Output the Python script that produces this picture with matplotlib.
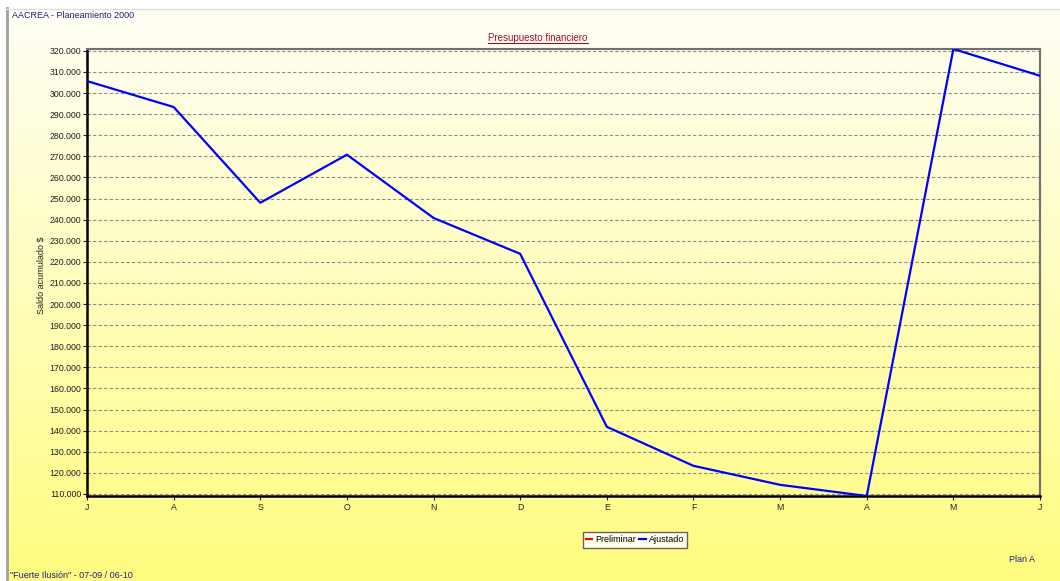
import numpy as np
import matplotlib.pyplot as plt
from matplotlib.lines import Line2D
from matplotlib.ticker import FuncFormatter

meses = ['J', 'A', 'S', 'O', 'N', 'D', 'E', 'F', 'M', 'A', 'M', 'J']
ajustado = [305700, 293400, 248000, 270800, 240800, 223800, 141800, 123300, 114300, 109000, 320900, 308200]
preliminar = []  # sin datos visibles
yticks = list(range(110000, 320001, 10000))

plt.rcParams['font.family'] = ['Liberation Sans', 'DejaVu Sans']

fig = plt.figure(figsize=(10.6, 5.81), dpi=100)

# fondo degradado (blanco arriba, amarillo abajo)
bg = fig.add_axes([0, 0, 1, 1], zorder=-10)
grad = np.linspace(0, 1, 256).reshape(-1, 1)
top = np.array([1.0, 1.0, 0.97])
bot = np.array([1.0, 0.99, 0.50])
img = top + (bot - top) * grad[..., None]
bg.imshow(img, aspect='auto', extent=[0, 1, 0, 1], origin='upper')
bg.axvspan(0, 6/1060, color='white')
bg.axhspan(1 - 8/581, 1, color='white')
bg.set_xlim(0, 1); bg.set_ylim(0, 1)
bg.axis('off')
fig.add_artist(Line2D([6.5/1060, 6.5/1060], [0, 1 - 8/581], color='#a0a0a0', lw=2))
fig.add_artist(Line2D([6/1060, 1], [1 - 8.5/581, 1 - 8.5/581], color='#e0e0e0', lw=1))

ax = fig.add_axes([87/1060, 1 - 496/581, (1040 - 87)/1060, (496 - 49)/581])
ax.patch.set_alpha(0)

x = np.arange(len(meses))
ax.plot(x, ajustado, color='#0000ff', lw=1.6, label='Ajustado', zorder=3)
ax.plot([], [], color='#ff0000', lw=1.6, label='Preliminar')

ax.set_xlim(0, len(meses) - 1)
ax.set_ylim(min(ajustado), max(ajustado))
ax.set_xticks(x)
ax.set_xticklabels(meses)
ax.set_yticks(yticks)
ax.yaxis.set_major_formatter(FuncFormatter(lambda v, p: f'{int(v):,}'.replace(',', '.')))
ax.tick_params(labelsize=6.3, length=3, width=0.8, colors='#202020', pad=2)
ax.tick_params(axis='y', pad=1)
ax.grid(axis='y', color='#8c8c8c', ls=(0, (3, 2)), lw=0.8)

for s in ['left', 'bottom']:
    ax.spines[s].set_color('black')
    ax.spines[s].set_linewidth(1.8)
for s in ['top', 'right']:
    ax.spines[s].set_color('#707070')
    ax.spines[s].set_linewidth(1.5)

ax.set_ylabel('Saldo acumulado $', fontsize=6.5, color='#202020')
ax.yaxis.set_label_coords(-0.043, 0.494)

h, l = ax.get_legend_handles_labels()
leg = fig.legend(h[::-1], l[::-1], loc='center', bbox_to_anchor=(635/1060, 1 - 540/581),
                 ncol=2, fontsize=6.5, frameon=True, fancybox=False, handlelength=0.7,
                 handletextpad=0.3, columnspacing=0.4, borderpad=0.35, borderaxespad=0)
leg.get_frame().set_edgecolor('#404040')
leg.get_frame().set_linewidth(1)

t = fig.text(538/1060, 1 - 38/581, 'Presupuesto financiero', ha='center', va='center',
             fontsize=7, color='#a01030')
fig.text(12/1060, 1 - 15/581, 'AACREA - Planeamiento 2000', ha='left', va='center',
         fontsize=6.5, color='#202080')
fig.text(1035/1060, 1 - 560/581, 'Plan A', ha='right', va='center', fontsize=6.5, color='#202080')
fig.text(10/1060, 1 - 576/581, '"Fuerte Ilusión" - 07-09 / 06-10', ha='left', va='center',
         fontsize=6.5, color='#202080')

# subrayado del título
fig.canvas.draw()
bb = t.get_window_extent().transformed(fig.transFigure.inverted())
fig.add_artist(Line2D([bb.x0, bb.x1], [bb.y0, bb.y0], color='#a01030', lw=0.8))

fig.savefig('out.png', dpi=100)
